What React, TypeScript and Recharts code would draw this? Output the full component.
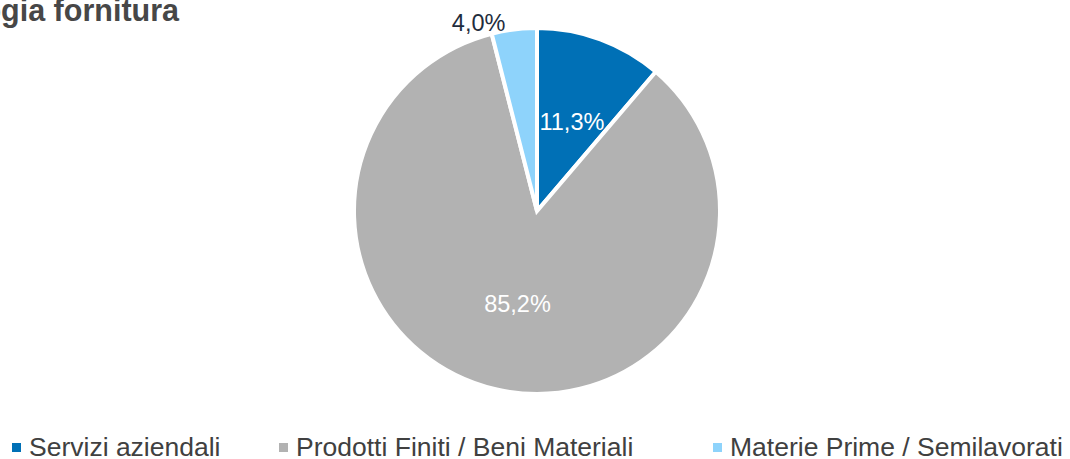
import React from "react";
import { PieChart, Pie, Cell, Legend } from "recharts";

const TITLE = "Tipologia fornitura";
const categories = ["Servizi aziendali", "Prodotti Finiti / Beni Materiali", "Materie Prime / Semilavorati"];
const shares = [11.3, 85.2, 4.0];
const shareLabels = ["11,3%", "85,2%", "4,0%"];
const colors = ["#0070b6", "#b2b2b2", "#8ed3fb"];

const data = categories.map((name, i) => ({ name, value: shares[i], label: shareLabels[i] }));

const RAD = Math.PI / 180;
const legendLeft = [12, 279, 713];
const FONT = "Liberation Sans, Arial, sans-serif";

const renderLabel = (props: any) => {
  const { cx, cy, midAngle, outerRadius, index } = props;
  const d = data[index];
  if (d.value < 6) {
    // small slice: label outside, Excel-style corner placement
    const r = outerRadius + 6;
    const x = cx + r * Math.cos(-midAngle * RAD);
    const y = cy + r * Math.sin(-midAngle * RAD);
    return (
      <text x={x - 8} y={y} fill="#1f2d3d" fontSize={23.5} fontFamily={FONT} textAnchor="end" dominantBaseline="central">
        {d.label}
      </text>
    );
  }
  const r = outerRadius * 0.52;
  const x = cx + r * Math.cos(-midAngle * RAD);
  const y = cy + r * Math.sin(-midAngle * RAD);
  return (
    <text x={x + 2} y={y} fill="#ffffff" fontSize={23.5} fontFamily={FONT} textAnchor="middle" dominantBaseline="central">
      {d.label}
    </text>
  );
};

const renderLegend = () => (
  <div style={{ position: "relative", width: 1070, height: 34 }}>
    {data.map((d, i) => (
      <div
        key={d.name}
        style={{
          position: "absolute",
          left: legendLeft[i],
          top: 0,
          height: 34,
          display: "flex",
          alignItems: "center",
          whiteSpace: "nowrap",
          fontFamily: FONT,
          fontSize: 26.5,
          color: "#404040",
        }}
      >
        <span style={{ display: "inline-block", width: 9, height: 9, background: colors[i], marginRight: 8 }} />
        <span>{d.name}</span>
      </div>
    ))}
  </div>
);

export default function App() {
  return (
    <div style={{ position: "absolute", left: 0, top: 0, width: 1070, height: 459, overflow: "hidden", background: "#ffffff" }}>
      <div
        style={{
          position: "absolute",
          right: 1070 - 179,
          top: -7,
          whiteSpace: "nowrap",
          fontFamily: FONT,
          fontWeight: "bold",
          fontSize: 30.5,
          color: "#474747",
        }}
      >
        {TITLE}
      </div>
      <PieChart width={1070} height={459} margin={{ top: 0, right: 0, bottom: 0, left: 0 }}>
        <Pie
          data={data}
          dataKey="value"
          nameKey="name"
          cx={537}
          cy={211}
          outerRadius={183}
          startAngle={90}
          endAngle={-270}
          stroke="#ffffff"
          strokeWidth={4}
          label={renderLabel}
          labelLine={false}
          isAnimationActive={false}
        >
          {data.map((d, i) => (
            <Cell key={d.name} fill={colors[i]} />
          ))}
        </Pie>
        <Legend
          content={renderLegend}
          wrapperStyle={{ position: "absolute", left: 0, top: 430, width: 1070, height: 34 }}
        />
      </PieChart>
    </div>
  );
}
